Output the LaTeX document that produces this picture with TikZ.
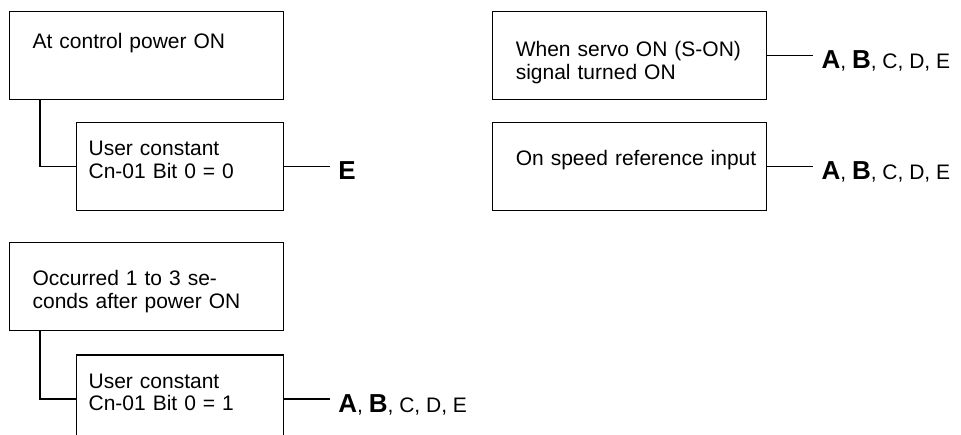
\documentclass[tikz,border=0pt]{standalone}
\usepackage{fontspec}
\setmainfont{Liberation Sans}
\usepackage{tikz}
\usetikzlibrary{positioning}
\newcommand{\keyltr}[1]{{\fontsize{26pt}{26pt}\selectfont\bfseries #1}}
\tikzset{
  cond/.style={draw,line width=1.2pt,anchor=north west,inner xsep=23pt,inner ysep=0pt,text width=228pt,align=left,text height=#1,text depth=88pt-#1,font=\fontsize{21pt}{22.7pt}\selectfont},
  subcond/.style={cond=#1,inner xsep=12pt,text width=183pt},
  result/.style={anchor=west,inner xsep=8pt,inner ysep=0pt,text height=26pt,text depth=0pt,font=\fontsize{21pt}{22.7pt}\selectfont},
  link/.style={line width=1.2pt}
}

\begin{document}
\begin{tikzpicture}[x=1pt,y=-1pt]
  \useasboundingbox (0,0) rectangle (961,434);
  \clip (0,0) rectangle (961,434);

  % Power-on cases
  \node[cond=37pt] (power) at (9,11) {At control power ON};
  \node[subcond=33pt,below right=22pt and 67pt of power.south west] (usr0) {User constant\\Cn-01 Bit 0 = 0};
  \node[result,right=46pt of usr0] (res0) {\keyltr{E}};

  \node[cond=43pt,below=142pt of power] (occ) {Occurred 1 to 3 se-\\conds after power ON};
  \node[subcond=33pt,below right=23pt and 67pt of occ.south west] (usr1) {User constant\\Cn-01 Bit 0 = 1};
  \node[result,right=46pt of usr1] (res1) {\keyltr{A}, \keyltr{B}, C, D, E};

  % Servo and speed reference cases
  \node[cond=45pt,right=208pt of power] (serv) {When servo ON (S-ON)\\signal turned ON};
  \node[result,right=46pt of serv] (res2) {\keyltr{A}, \keyltr{B}, C, D, E};
  \node[cond=43pt,below=22pt of serv] (spd) {\mbox{On speed reference input}};
  \node[result,right=46pt of spd] (res3) {\keyltr{A}, \keyltr{B}, C, D, E};

  \draw[link] ([xshift=31pt]power.south west) |- (usr0.west);
  \draw[link] ([xshift=31pt]occ.south west) |- (usr1.west);
  \draw[link] (usr0) -- (res0);
  \draw[link] (usr1) -- (res1);
  \draw[link] (serv) -- (res2);
  \draw[link] (spd) -- (res3);
\end{tikzpicture}
\end{document}
